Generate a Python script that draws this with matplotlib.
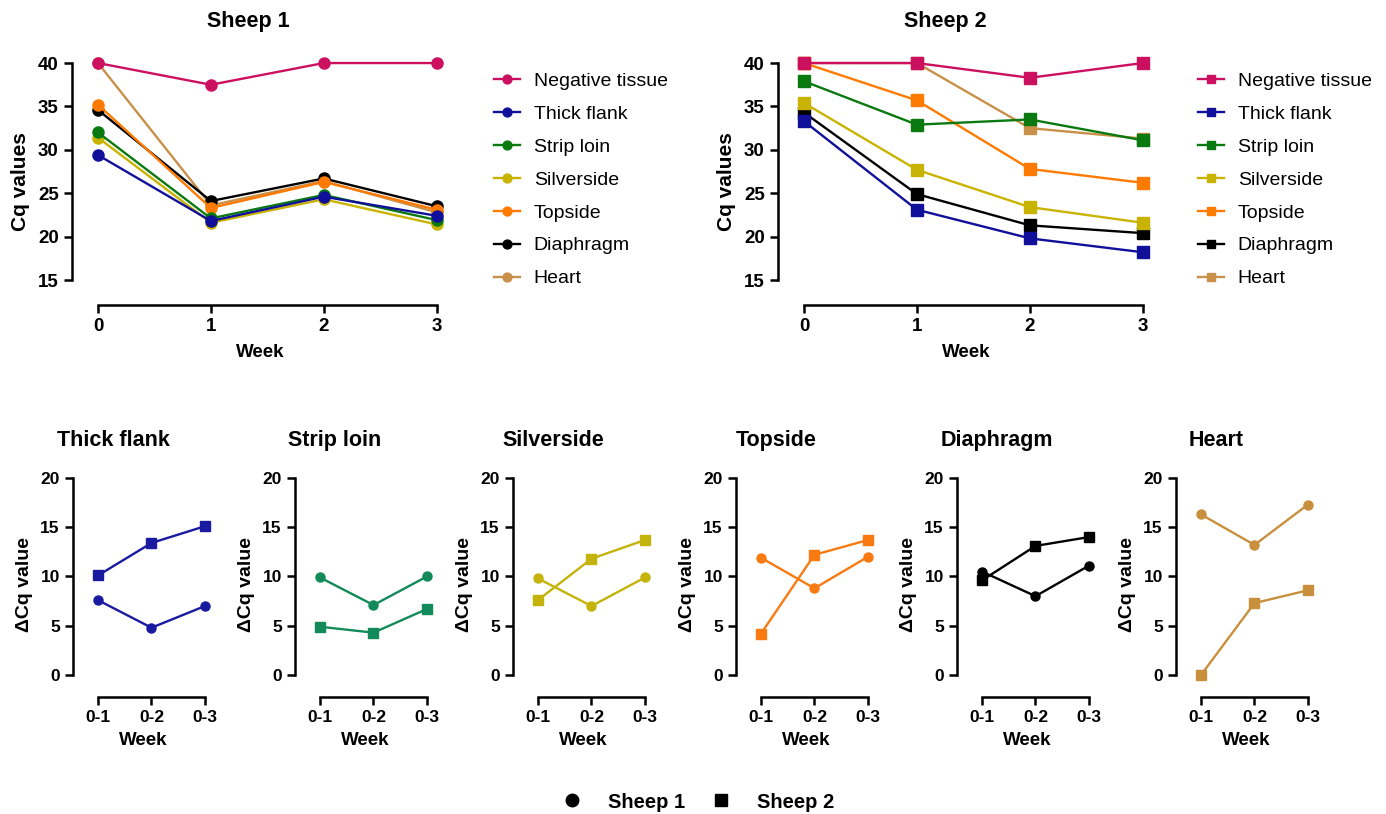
import matplotlib.pyplot as plt
from matplotlib.lines import Line2D

plt.rcParams['font.family'] = ['Liberation Sans', 'DejaVu Sans']

# Tissues and colours
tissues = ["Negative tissue", "Thick flank", "Strip loin", "Silverside",
           "Topside", "Diaphragm", "Heart"]
colors = ["#cc1060", "#10109a", "#0a7a10", "#c8b400", "#ff7a00", "#000000", "#c89048"]

weeks = [0, 1, 2, 3]

# Cq values, sheep 1
sheep1 = {
    "Negative tissue": [40.0, 37.5, 40.0, 40.0],
    "Thick flank": [29.4, 21.8, 24.6, 22.4],
    "Strip loin": [32.0, 22.1, 24.8, 21.9],
    "Silverside": [31.4, 21.6, 24.3, 21.4],
    "Topside": [35.2, 23.3, 26.3, 23.1],
    "Diaphragm": [34.6, 24.1, 26.7, 23.5],
    "Heart": [40.0, 23.6, 26.4, 22.8],
}

# Cq values, sheep 2
sheep2 = {
    "Negative tissue": [40.0, 40.0, 38.3, 40.0],
    "Thick flank": [33.3, 23.1, 19.8, 18.2],
    "Strip loin": [37.9, 32.9, 33.5, 31.1],
    "Silverside": [35.4, 27.7, 23.4, 21.6],
    "Topside": [40.0, 35.7, 27.8, 26.2],
    "Diaphragm": [34.3, 24.9, 21.3, 20.4],
    "Heart": [40.0, 40.0, 32.5, 31.3],
}

# Delta Cq, small panels
periods = ["0-1", "0-2", "0-3"]
delta_tissues = ["Thick flank", "Strip loin", "Silverside", "Topside", "Diaphragm", "Heart"]
delta_colors = ["#1a1aa0", "#128a5a", "#c3b30a", "#f87a10", "#000000", "#c8903c"]
delta_s1 = {
    "Thick flank": [7.6, 4.8, 7.0],
    "Strip loin": [9.9, 7.1, 10.0],
    "Silverside": [9.8, 7.0, 9.9],
    "Topside": [11.9, 8.8, 12.0],
    "Diaphragm": [10.5, 8.0, 11.1],
    "Heart": [16.3, 13.2, 17.3],
}
delta_s2 = {
    "Thick flank": [10.1, 13.4, 15.1],
    "Strip loin": [4.9, 4.3, 6.7],
    "Silverside": [7.6, 11.8, 13.7],
    "Topside": [4.2, 12.2, 13.7],
    "Diaphragm": [9.6, 13.1, 14.0],
    "Heart": [0.0, 7.3, 8.6],
}

W, H = 1386, 814
fig = plt.figure(figsize=(W / 100, H / 100), dpi=100)


def px_axes(left, top, right, bottom):
    return fig.add_axes([left / W, 1 - bottom / H, (right - left) / W, (bottom - top) / H])


def style(ax, xb, yb, fs):
    for s in ["top", "right"]:
        ax.spines[s].set_visible(False)
    for s in ["left", "bottom"]:
        ax.spines[s].set_linewidth(1.8)
    ax.spines["bottom"].set_bounds(*xb)
    ax.spines["left"].set_bounds(*yb)
    ax.tick_params(width=1.8, length=6, labelsize=fs)
    for lab in ax.get_xticklabels() + ax.get_yticklabels():
        lab.set_fontweight("bold")


# Top panels
for data, marker, left, right, title, tx, lx in [
    (sheep1, "o", 72, 448, "Sheep 1", 248, 494),
    (sheep2, "s", 778, 1154, "Sheep 2", 945, 1198),
]:
    ax = px_axes(left, 58.7, right, 305)
    for name, c in reversed(list(zip(tissues, colors))):
        ax.plot(weeks, data[name], color=c, marker=marker, markersize=8,
                linewidth=1.7, label=name, clip_on=False)
    ax.set_xlim(-0.23, 3.1)
    ax.set_ylim(12.12, 40.5)
    ax.set_xticks(weeks)
    ax.set_yticks([15, 20, 25, 30, 35, 40])
    style(ax, (0, 3), (15, 40), 13.5)
    ax.set_xlabel("Week", fontsize=13.5, fontweight="bold", labelpad=6)
    ax.set_ylabel("Cq values", fontsize=15, fontweight="bold", labelpad=6)
    fig.text(tx / W, 1 - 22 / H, title, fontsize=15.5, fontweight="bold", ha="center", va="center")
    h, l = ax.get_legend_handles_labels()
    fig.legend(h[::-1], l[::-1], loc="upper left", bbox_to_anchor=(lx / W, 1 - 72 / H),
               frameon=False, fontsize=14, borderpad=0, borderaxespad=0,
               handlelength=1.35, handletextpad=0.7, labelspacing=0.79, markerscale=0.8)

# Bottom panels
lefts = [73, 295, 513, 736, 957, 1176]
xs = [0, 1, 2]
for name, c, left in zip(delta_tissues, delta_colors, lefts):
    ax = px_axes(left, 473, left + 140, 697)
    ax.plot(xs, delta_s1[name], color=c, marker="o", markersize=6.5, linewidth=1.7, clip_on=False)
    ax.plot(xs, delta_s2[name], color=c, marker="s", markersize=6.5, linewidth=1.7, clip_on=False)
    ax.set_xlim(-0.467, 2.15)
    ax.set_ylim(-2.23, 20.5)
    ax.set_xticks(xs)
    ax.set_xticklabels(periods)
    ax.set_yticks([0, 5, 10, 15, 20])
    style(ax, (0, 2), (0, 20), 12.5)
    ax.set_xlabel("Week", fontsize=13.5, fontweight="bold", labelpad=5)
    ax.set_ylabel("ΔCq value", fontsize=14, fontweight="bold", labelpad=5)
    fig.text((left + 40) / W, 1 - 441 / H, name, fontsize=15.5, fontweight="bold",
             ha="center", va="center")

# Shared legend
handles = [Line2D([], [], color="black", marker="o", linestyle="none", markersize=9),
           Line2D([], [], color="black", marker="s", linestyle="none", markersize=8)]
fig.legend(handles, ["Sheep 1", "Sheep 2"], loc="center", bbox_to_anchor=(0.5, 1 - 802 / H),
           ncol=2, frameon=False, prop={"size": 14.5, "weight": "bold"},
           handletextpad=0.8, columnspacing=0.8)

plt.savefig("out.png", dpi=100)
